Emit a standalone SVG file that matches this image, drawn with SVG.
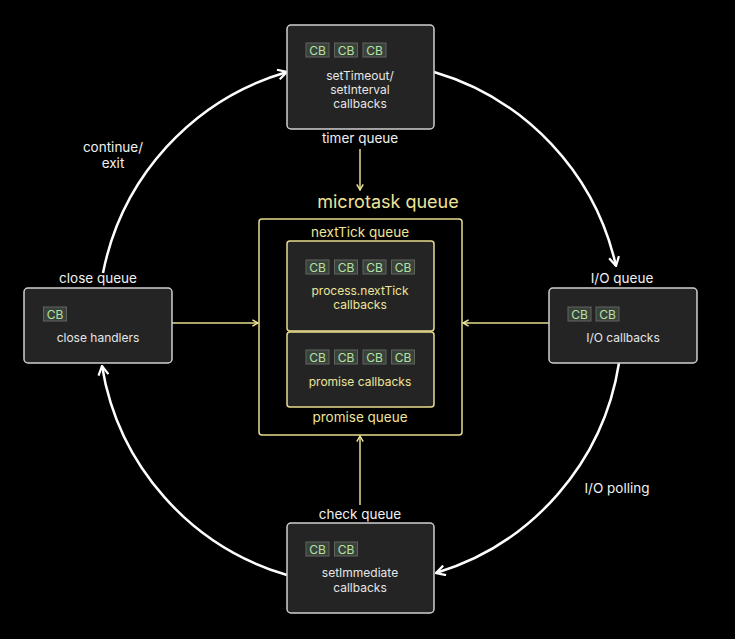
<svg xmlns="http://www.w3.org/2000/svg" width="735" height="639" viewBox="0 0 735 639">
  <style>
    text { font-family: Inter, "Liberation Sans", sans-serif; text-anchor: middle; }
    .box { fill: #242424; stroke: #cfcfcf; stroke-width: 1.5; }
    .ybox { fill: #242424; stroke: #e6dc8c; stroke-width: 1.5; }
    .outer { fill: #000; stroke: #e6dc8c; stroke-width: 1.5; }
    .chip rect { fill: #3a413a; stroke: #60645f; stroke-width: 1; }
    .chip text { fill: #b4e2a4; font-size: 12px; }
    .lbl { fill: #f0f0f0; font-size: 13.5px; }
    .body { fill: #e6e6e6; font-size: 12px; }
    .ylbl { fill: #eee49a; font-size: 13.5px; }
    .ybody { fill: #eee49a; font-size: 12px; }
    .cycle { fill: none; stroke: #ffffff; stroke-width: 2.5; marker-end: url(#wArrow); }
    .feed { fill: none; stroke: #e6dc8c; stroke-width: 1.5; marker-end: url(#yArrow); }
  </style>
  <defs>
    <marker id="wArrow" viewBox="0 0 12 12" refX="11" refY="6" markerWidth="12" markerHeight="12" markerUnits="userSpaceOnUse" orient="auto">
      <path d="M2,1 L11,6 L2,11" fill="none" stroke="#ffffff" stroke-width="2.2"/>
    </marker>
    <marker id="yArrow" viewBox="0 0 10 10" refX="9" refY="5" markerWidth="8" markerHeight="8" markerUnits="userSpaceOnUse" orient="auto">
      <path d="M2,1 L9,5 L2,9" fill="none" stroke="#eee49a" stroke-width="1.8"/>
    </marker>
    <g id="cb" class="chip">
      <rect x="0" y="0" width="23" height="14"/>
      <text x="11.5" y="11.5">CB</text>
    </g>
  </defs>
  <rect width="735" height="639" fill="#000"/>

  <!-- connectors -->
  <g id="connectors">
    <path class="cycle" d="M103,273 A262,262 0 0 1 287,72"/>
    <path class="cycle" d="M434,72 A262,262 0 0 1 616,266"/>
    <path class="cycle" d="M619,363 A262,262 0 0 1 436,573"/>
    <path class="cycle" d="M287,575 A262,262 0 0 1 102,366"/>
    <path class="feed" d="M360,149 L360,190"/>
    <path class="feed" d="M172,323 L258,323"/>
    <path class="feed" d="M549,323 L463,323"/>
    <path class="feed" d="M360,505 L360,436"/>
    <text class="lbl" x="113" y="152">continue/</text>
    <text class="lbl" x="113" y="168">exit</text>
    <text class="lbl" x="617" y="493">I/O polling</text>
  </g>

  <!-- timer queue -->
  <g id="timer-queue">
    <rect class="box" x="287" y="25" width="147" height="104" rx="4"/>
    <use href="#cb" x="306" y="43"/>
    <use href="#cb" x="334.5" y="43"/>
    <use href="#cb" x="363" y="43"/>
    <text class="body" x="360" y="80">setTimeout/</text>
    <text class="body" x="360" y="94">setInterval</text>
    <text class="body" x="360" y="108">callbacks</text>
    <text class="lbl" x="360" y="143">timer queue</text>
  </g>

  <!-- microtask queue -->
  <g id="microtask-queue">
    <text class="ylbl" x="388" y="208" style="font-size:18px">microtask queue</text>
    <rect class="outer" x="259" y="219" width="203" height="216" rx="3"/>
    <text class="ylbl" x="360" y="237">nextTick queue</text>
    <g id="nexttick-queue">
      <rect class="ybox" x="287" y="241" width="147" height="90" rx="3"/>
      <use href="#cb" x="306" y="260"/>
      <use href="#cb" x="334.5" y="260"/>
      <use href="#cb" x="363" y="260"/>
      <use href="#cb" x="391.5" y="260"/>
      <text class="ybody" x="360" y="294.5">process.nextTick</text>
      <text class="ybody" x="360" y="308.5">callbacks</text>
    </g>
    <g id="promise-queue">
      <rect class="ybox" x="287" y="332" width="147" height="75" rx="3"/>
      <use href="#cb" x="306" y="350"/>
      <use href="#cb" x="334.5" y="350"/>
      <use href="#cb" x="363" y="350"/>
      <use href="#cb" x="391.5" y="350"/>
      <text class="ybody" x="360" y="386">promise callbacks</text>
    </g>
    <text class="ylbl" x="360" y="422">promise queue</text>
  </g>

  <!-- close queue -->
  <g id="close-queue">
    <text class="lbl" x="98" y="283">close queue</text>
    <rect class="box" x="24" y="288" width="148" height="75" rx="4"/>
    <use href="#cb" x="43.5" y="307"/>
    <text class="body" x="98" y="342">close handlers</text>
  </g>

  <!-- I/O queue -->
  <g id="io-queue">
    <text class="lbl" x="622" y="283">I/O queue</text>
    <rect class="box" x="549" y="288" width="148" height="75" rx="4"/>
    <use href="#cb" x="568" y="307"/>
    <use href="#cb" x="596" y="307"/>
    <text class="body" x="623" y="342">I/O callbacks</text>
  </g>

  <!-- check queue -->
  <g id="check-queue">
    <text class="lbl" x="360" y="519">check queue</text>
    <rect class="box" x="287" y="523" width="147" height="90" rx="4"/>
    <use href="#cb" x="306" y="542"/>
    <use href="#cb" x="334.5" y="542"/>
    <text class="body" x="360" y="577">setImmediate</text>
    <text class="body" x="360" y="592">callbacks</text>
  </g>
</svg>
